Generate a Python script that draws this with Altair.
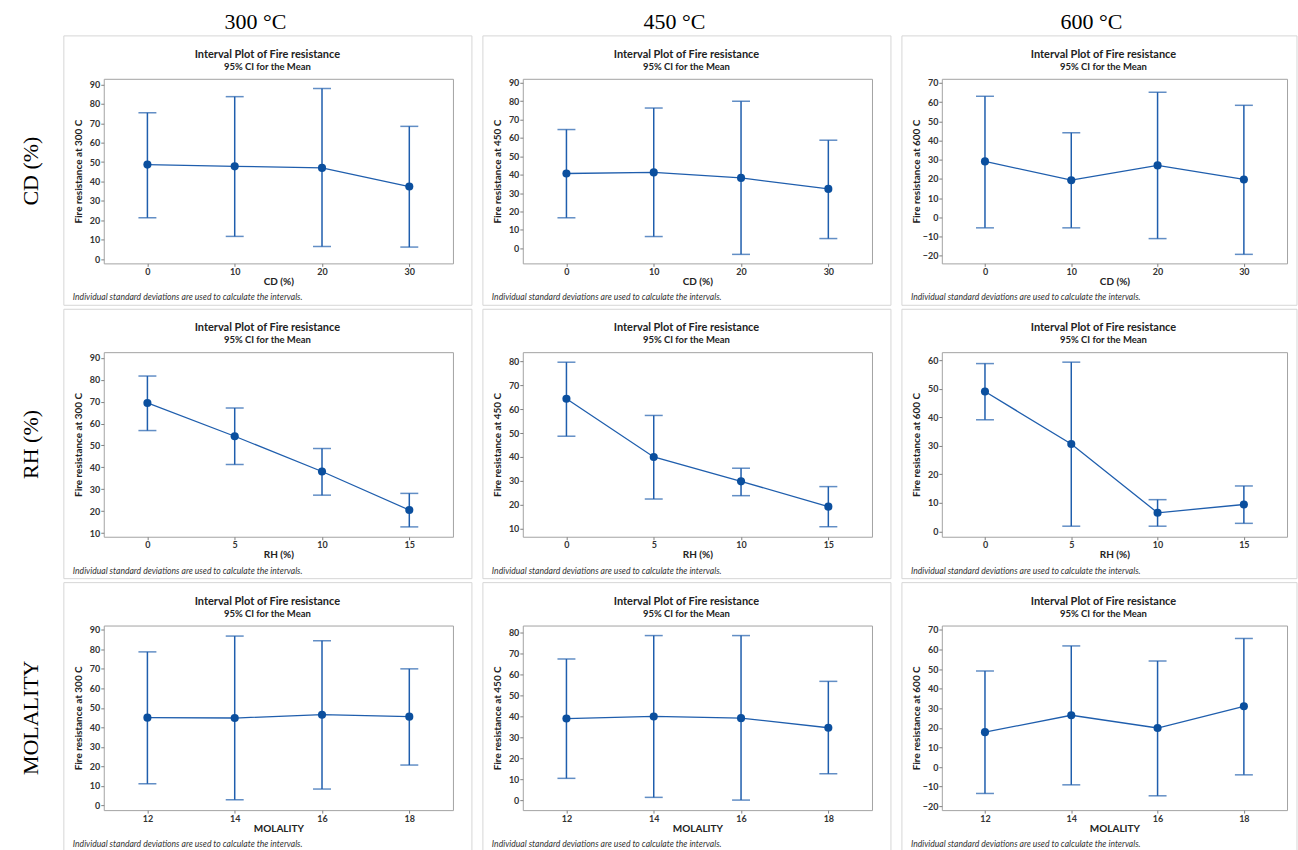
import altair as alt
import pandas as pd

# ---------------- data ----------------
temps = ["300", "450", "600"]
factor_titles = ["CD (%)", "RH (%)", "MOLALITY"]
row_labels = ["CD (%)", "RH (%)", "MOLALITY"]

cd_levels = [0, 10, 20, 30]
rh_levels = [0, 5, 10, 15]
mol_levels = [12, 14, 16, 18]

cd300_mean = [48.7, 47.8, 47.0, 37.4]
cd300_lo = [21.3, 11.7, 6.5, 6.2]
cd300_hi = [75.4, 83.7, 87.9, 68.4]

cd450_mean = [40.7, 41.3, 38.3, 32.3]
cd450_lo = [16.6, 6.4, -3.3, 5.3]
cd450_hi = [64.6, 76.3, 80.0, 58.8]

cd600_mean = [29.1, 19.3, 27.0, 19.7]
cd600_lo = [-5.5, -5.5, -11.1, -19.3]
cd600_hi = [63.0, 44.0, 65.1, 58.3]

rh300_mean = [69.4, 54.2, 38.1, 20.5]
rh300_lo = [56.8, 41.3, 27.3, 12.8]
rh300_hi = [81.7, 67.1, 48.6, 28.1]

rh450_mean = [64.4, 40.0, 29.8, 19.2]
rh450_lo = [48.7, 22.4, 23.8, 10.8]
rh450_hi = [79.7, 57.4, 35.3, 27.6]

rh600_mean = [49.0, 30.6, 6.5, 9.4]
rh600_lo = [39.1, 1.8, 1.8, 2.8]
rh600_hi = [58.8, 59.3, 11.1, 15.9]

mol300_mean = [45.0, 44.8, 46.5, 45.5]
mol300_lo = [11.1, 2.9, 8.4, 20.7]
mol300_hi = [78.7, 86.8, 84.4, 70.0]

mol450_mean = [39.0, 40.0, 39.2, 34.6]
mol450_lo = [10.4, 1.3, 0.0, 12.6]
mol450_hi = [67.5, 78.7, 78.7, 56.8]

mol600_mean = [17.8, 26.4, 19.9, 31.0]
mol600_lo = [-13.5, -9.1, -14.7, -4.0]
mol600_hi = [49.0, 61.8, 54.1, 65.6]

ticks_cd300 = [0, 10, 20, 30, 40, 50, 60, 70, 80, 90]
ticks_cd450 = [0, 10, 20, 30, 40, 50, 60, 70, 80, 90]
ticks_cd600 = [-20, -10, 0, 10, 20, 30, 40, 50, 60, 70]
ticks_rh300 = [10, 20, 30, 40, 50, 60, 70, 80, 90]
ticks_rh450 = [10, 20, 30, 40, 50, 60, 70, 80]
ticks_rh600 = [0, 10, 20, 30, 40, 50, 60]
ticks_mol300 = [0, 10, 20, 30, 40, 50, 60, 70, 80, 90]
ticks_mol450 = [0, 10, 20, 30, 40, 50, 60, 70, 80]
ticks_mol600 = [-20, -10, 0, 10, 20, 30, 40, 50, 60, 70]

dom_cd300 = [-2.2, 92.9]
dom_cd450 = [-8.2, 92.2]
dom_cd600 = [-24.0, 72.1]
dom_rh300 = [8.3, 92.6]
dom_rh450 = [6.6, 83.9]
dom_rh600 = [-1.9, 62.8]
dom_mol300 = [-2.4, 92.2]
dom_mol450 = [-4.8, 83.5]
dom_mol600 = [-22.0, 72.2]

title_text = "Interval Plot of Fire resistance"
subtitle_text = "95% CI for the Mean"
footnote = "Individual standard deviations are used to calculate the intervals."

# ---------------- styling ----------------
FONT = "Lato"
SERIF = "Liberation Serif"
BLUE_DARK = "#0b4f9e"
BLUE = "#1f5ead"
widths = [350, 350, 346]
right_ext = [19, 19, 10]
H = 185


def txt(s, x, y, **kw):
    return alt.Chart(pd.DataFrame({"t": [s]})).mark_text(**kw).encode(
        x=alt.value(x), y=alt.value(y), text="t:N"
    )


def panel(levels, mean, lo, hi, xtitle, temp, yticks, ydom, w, col, row):
    df = pd.DataFrame({"level": levels, "mean": mean, "lo": lo, "hi": hi})
    xs = alt.X(
        "level:O",
        sort=levels,
        scale=alt.Scale(type="point", padding=0.5),
        axis=alt.Axis(
            title=xtitle, labelAngle=0, titleY=18, titleBaseline="middle",
            labelPadding=1, titleFontSize=10, titleFontWeight="bold",
        ),
    )
    yscale = alt.Scale(domain=ydom, nice=False, zero=False)
    yaxis = alt.Axis(
        title=f"Fire resistance at {temp} C", values=yticks, titleX=-25,
        titleBaseline="middle", labelPadding=1, titleFontSize=10,
        titleFontWeight="bold",
    )

    def Y(f):
        return alt.Y(f"{f}:Q", scale=yscale, axis=yaxis)

    base = alt.Chart(df)
    one = pd.DataFrame({"t": [footnote]})

    frame = alt.Chart(one).mark_rect(
        fill="white", fillOpacity=0, stroke="#d6d6d6", strokeWidth=1
    ).encode(
        x=alt.value(-40), x2=alt.value(w + right_ext[col]),
        y=alt.value(-43), y2=alt.value(H + 42),
    )
    rule = base.mark_rule(color=BLUE, strokeWidth=1.5).encode(
        x=xs, y=Y("lo"), y2="hi:Q"
    )
    cap_lo = base.mark_tick(color=BLUE, orient="horizontal", size=18, thickness=1.5).encode(
        x=xs, y=Y("lo")
    )
    cap_hi = base.mark_tick(color=BLUE, orient="horizontal", size=18, thickness=1.5).encode(
        x=xs, y=Y("hi")
    )
    line = base.mark_line(color=BLUE, strokeWidth=1.3).encode(x=xs, y=Y("mean"))
    pts = base.mark_circle(color=BLUE_DARK, size=66, opacity=1).encode(x=xs, y=Y("mean"))
    note = txt(footnote, -31, H + 34, align="left", baseline="middle", font=FONT,
               fontSize=8.6, fontStyle="italic", color="#333333")
    t1 = txt(title_text, w / 2 - 11, -24, align="center", baseline="middle", font=FONT,
             fontSize=11, fontWeight="bold", color="#222222")
    t2 = txt(subtitle_text, w / 2 - 11, -12, align="center", baseline="middle", font=FONT,
             fontSize=9.5, fontWeight="bold", color="#222222")

    layers = [frame, rule, cap_lo, cap_hi, line, pts, note, t1, t2]

    if row == 0:
        layers.append(txt(f"{temp} °C", w / 2 - 23, -57, font=SERIF, fontSize=22,
                          baseline="middle", align="center", color="#000000"))
    if col == 0:
        layers.append(txt(row_labels[row], -73, H / 2, font=SERIF, fontSize=22,
                          baseline="middle", align="center", angle=270, color="#000000"))
    if col == 0 and row == 0:
        anchor = alt.Chart(one).mark_rect(fill="white", opacity=0).encode(
            x=alt.value(-103), x2=alt.value(-102), y=alt.value(-77), y2=alt.value(-76)
        )
        layers.append(anchor)

    return alt.layer(*layers).properties(width=w, height=H)


specs = [
    [(cd_levels, cd300_mean, cd300_lo, cd300_hi, ticks_cd300, dom_cd300),
     (cd_levels, cd450_mean, cd450_lo, cd450_hi, ticks_cd450, dom_cd450),
     (cd_levels, cd600_mean, cd600_lo, cd600_hi, ticks_cd600, dom_cd600)],
    [(rh_levels, rh300_mean, rh300_lo, rh300_hi, ticks_rh300, dom_rh300),
     (rh_levels, rh450_mean, rh450_lo, rh450_hi, ticks_rh450, dom_rh450),
     (rh_levels, rh600_mean, rh600_lo, rh600_hi, ticks_rh600, dom_rh600)],
    [(mol_levels, mol300_mean, mol300_lo, mol300_hi, ticks_mol300, dom_mol300),
     (mol_levels, mol450_mean, mol450_lo, mol450_hi, ticks_mol450, dom_mol450),
     (mol_levels, mol600_mean, mol600_lo, mol600_hi, ticks_mol600, dom_mol600)],
]

panels = []
for r, rowspec in enumerate(specs):
    for c, (lv, m, lo, hi, tk, dom) in enumerate(rowspec):
        panels.append(panel(lv, m, lo, hi, factor_titles[r], temps[c], tk, dom, widths[c], c, r))

chart = alt.concat(
    *panels, columns=3, spacing=alt.RowColnumber(row=89, column=70),
    bounds="flush", align="each",
).properties(
    padding=0, background="white"
).configure_view(
    stroke="#a3a3a3", strokeWidth=1
).configure_axis(
    domain=False, grid=False, tickColor="#808080", tickSize=3, tickWidth=1,
    labelFont=FONT, labelFontSize=9, labelFontWeight="bold", labelColor="#333333",
    titleFont=FONT, titleColor="#222222",
)

chart.save("out.html", embed_options={"renderer": "svg", "actions": False})
